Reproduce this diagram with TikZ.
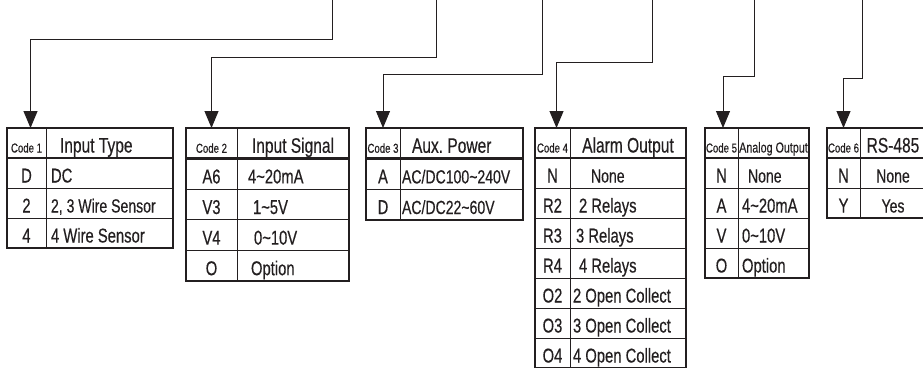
\documentclass[tikz,border=0pt]{standalone}
\usepackage{fontspec}
\setmainfont{Liberation Sans}[FakeStretch=0.74, FakeBold=0.4]
\frenchspacing
\usepackage{tikz}
\usetikzlibrary{arrows.meta, positioning}
\definecolor{ink}{RGB}{35, 31, 32}

\begin{document}
\begin{tikzpicture}[
        x=1pt, y=1pt,
        font=\fontsize{20}{24}\selectfont,
        cell/.style={draw=ink, line width=0.9pt, text=ink, inner sep=0pt, outer sep=0pt, minimum height=30pt, text height=19pt, text depth=0pt},
        keycell/.style={cell},
        txtcell/.style={cell, align=flush left},
        titletxt/.style={font=\fontsize{21}{25}\selectfont},
        titlecell/.style={cell, titletxt},
        codetxt/.style={font=\fontsize{13}{15}\selectfont},
        smtxt/.style={font=\fontsize{19}{23}\selectfont},
        frame/.style={draw=ink, line width=2.5pt},
        arr/.style={-{Triangle[length=17pt, width=14pt]}, draw=ink, line width=1pt},
    ]
        \useasboundingbox (0,0) rectangle (923,-367);

        % --- Code 1: input type ---
        \begin{scope}[keycell/.append style={minimum width=39pt}, titlecell/.append style={minimum width=127pt},
                      txtcell/.append style={inner xsep=5pt, text width=117pt}]
        \node[keycell, codetxt, anchor=north west] (k1h) at (7,-128) {Code 1};
        \node[txtcell, titletxt, right=0pt of k1h] (t1h) {\hspace*{9pt}Input Type};
        \node[keycell, below=0pt of k1h] (k1a) {D};
        \node[txtcell, right=0pt of k1a] (t1a) {DC};
        \node[keycell, below=0pt of k1a] (k1b) {2};
        \node[txtcell, smtxt, right=0pt of k1b] (t1b) {2, 3 Wire Sensor};
        \node[keycell, below=0pt of k1b] (k1c) {4};
        \node[txtcell, right=0pt of k1c] (t1c) {4 Wire Sensor};
        \end{scope}
        \draw[frame] (k1h.north west) rectangle (t1c.south east);
        \draw[frame] (k1h.south west) -- (t1h.south east);

        % --- Code 2: input signal ---
        \begin{scope}[cell/.append style={minimum height=30.6pt},
                      keycell/.append style={minimum width=51pt}, titlecell/.append style={minimum width=112pt},
                      txtcell/.append style={inner xsep=11pt, text width=90pt}]
        \node[keycell, codetxt, anchor=north west] (k2h) at (186,-128) {Code 2};
        \node[titlecell, right=0pt of k2h] (t2h) {Input Signal};
        \node[keycell, below=0pt of k2h] (k2a) {A6};
        \node[txtcell, right=0pt of k2a] (t2a) {4\textasciitilde20mA};
        \node[keycell, below=0pt of k2a] (k2b) {V3};
        \node[txtcell, right=0pt of k2b] (t2b) {\hspace*{5pt}1\textasciitilde5V};
        \node[keycell, below=0pt of k2b] (k2c) {V4};
        \node[txtcell, right=0pt of k2c] (t2c) {\hspace*{6pt}0\textasciitilde10V};
        \node[keycell, below=0pt of k2c] (k2d) {O};
        \node[txtcell, right=0pt of k2d] (t2d) {\hspace*{3pt}Option};
        \end{scope}
        \draw[frame] (k2h.north west) rectangle (t2d.south east);
        \draw[frame] (k2h.south west) -- (t2h.south east);

        % --- Code 3: aux. power ---
        \begin{scope}[cell/.append style={minimum height=30.6pt},
                      keycell/.append style={minimum width=34pt}, titlecell/.append style={minimum width=123pt},
                      txtcell/.append style={inner xsep=2pt, text width=119pt}]
        \node[keycell, codetxt, anchor=north west] (k3h) at (366,-128) {Code 3};
        \node[txtcell, titletxt, right=0pt of k3h] (t3h) {\hspace*{10pt}Aux. Power};
        \node[keycell, below=0pt of k3h] (k3a) {A};
        \node[txtcell, smtxt, right=0pt of k3a] (t3a) {AC/DC100\textasciitilde240V};
        \node[keycell, below=0pt of k3a] (k3b) {D};
        \node[txtcell, smtxt, right=0pt of k3b] (t3b) {AC/DC22\textasciitilde60V};
        \end{scope}
        \draw[frame] (k3h.north west) rectangle (t3b.south east);
        \draw[frame] (k3h.south west) -- (t3h.south east);

        % --- Code 4: alarm output (runs off the bottom edge) ---
        \begin{scope}[keycell/.append style={minimum width=35pt}, titlecell/.append style={minimum width=116pt},
                      txtcell/.append style={inner xsep=3pt, text width=110pt}]
        \node[keycell, codetxt, anchor=north west] (k4h) at (535,-128) {Code 4};
        \node[titlecell, right=0pt of k4h] (t4h) {Alarm Output};
        \node[keycell, below=0pt of k4h] (k4a) {N};
        \node[txtcell, smtxt, right=0pt of k4a] (t4a) {\hspace*{18pt}None};
        \node[keycell, below=0pt of k4a] (k4b) {R2};
        \node[txtcell, right=0pt of k4b] (t4b) {\hspace*{6pt}2 Relays};
        \node[keycell, below=0pt of k4b] (k4c) {R3};
        \node[txtcell, right=0pt of k4c] (t4c) {\hspace*{3pt}3 Relays};
        \node[keycell, below=0pt of k4c] (k4d) {R4};
        \node[txtcell, right=0pt of k4d] (t4d) {\hspace*{6pt}4 Relays};
        \node[keycell, below=0pt of k4d] (k4e) {O2};
        \node[txtcell, right=0pt of k4e] (t4e) {2 Open Collect};
        \node[keycell, below=0pt of k4e] (k4f) {O3};
        \node[txtcell, right=0pt of k4f] (t4f) {3 Open Collect};
        \node[keycell, below=0pt of k4f] (k4g) {O4};
        \node[txtcell, right=0pt of k4g] (t4g) {4 Open Collect};
        \end{scope}
        \draw[frame] (k4h.north west) rectangle (t4g.south east);
        \draw[frame] (k4h.south west) -- (t4h.south east);

        % --- Code 5: analog output ---
        \begin{scope}[keycell/.append style={minimum width=33pt}, titlecell/.append style={minimum width=71pt},
                      txtcell/.append style={inner xsep=4pt, text width=63pt}]
        \node[keycell, codetxt, anchor=north west] (k5h) at (705,-128) {Code 5};
        \node[titlecell, font=\fontsize{14.5}{17}\selectfont, right=0pt of k5h] (t5h) {Analog Output};
        \node[keycell, below=0pt of k5h] (k5a) {N};
        \node[txtcell, smtxt, right=0pt of k5a] (t5a) {\hspace*{6pt}None};
        \node[keycell, below=0pt of k5a] (k5b) {A};
        \node[txtcell, right=0pt of k5b] (t5b) {4\textasciitilde20mA};
        \node[keycell, below=0pt of k5b] (k5c) {V};
        \node[txtcell, right=0pt of k5c] (t5c) {0\textasciitilde10V};
        \node[keycell, below=0pt of k5c] (k5d) {O};
        \node[txtcell, right=0pt of k5d] (t5d) {Option};
        \end{scope}
        \draw[frame] (k5h.north west) rectangle (t5d.south east);
        \draw[frame] (k5h.south west) -- (t5h.south east);

        % --- Code 6: RS-485 (runs off the right edge) ---
        \begin{scope}[keycell/.append style={minimum width=33pt}, titlecell/.append style={minimum width=66pt}]
        \node[keycell, codetxt, anchor=north west] (k6h) at (827,-128) {Code 6};
        \node[titlecell, right=0pt of k6h] (t6h) {RS-485};
        \node[keycell, below=0pt of k6h] (k6a) {N};
        \node[titlecell, smtxt, right=0pt of k6a] (t6a) {None};
        \node[keycell, below=0pt of k6a] (k6b) {Y};
        \node[titlecell, smtxt, right=0pt of k6b] (t6b) {Yes};
        \end{scope}
        \draw[frame] (k6h.north west) rectangle (t6b.south east);
        \draw[frame] (k6h.south west) -- (t6h.south east);

        % --- Feeds from the order code above ---
        \coordinate (src1) at (332,0);
        \coordinate (src2) at (436,0);
        \coordinate (src3) at (542,0);
        \coordinate (src4) at (652,0);
        \coordinate (src5) at (754,0);
        \coordinate (src6) at (862,0);
        \draw[arr] (src1) -- ++(0,-39) -| ([xshift=4pt]k1h.north);
        \draw[arr] (src2) -- ++(0,-57) -| (k2h.north);
        \draw[arr] (src3) -- ++(0,-74) -| (k3h.north);
        \draw[arr] (src4) -- ++(0,-62) -| ([xshift=4pt]k4h.north);
        \draw[arr] (src5) -- ++(0,-76) -| ([xshift=1.5pt]k5h.north);
        \draw[arr] (src6) -- ++(0,-78) -| (k6h.north);

    \end{tikzpicture}
\end{document}
